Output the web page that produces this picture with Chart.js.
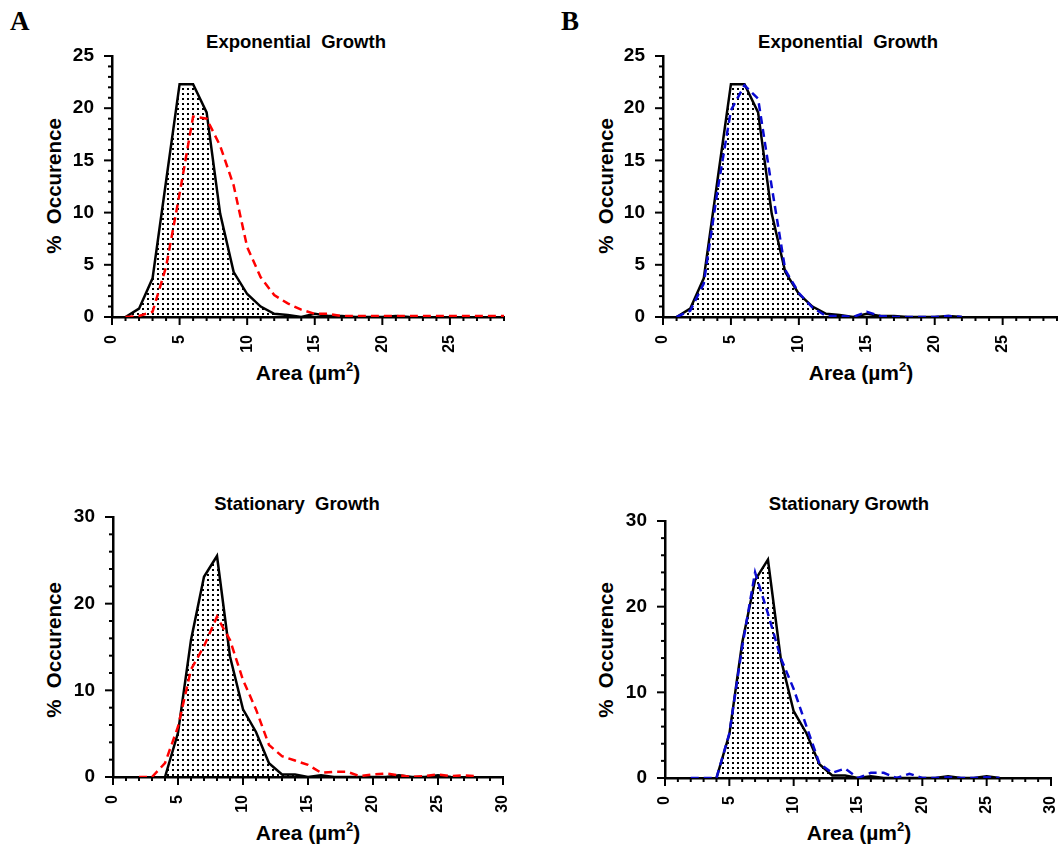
<!DOCTYPE html>
<html>
<head>
<meta charset="utf-8">
<script src="https://cdn.jsdelivr.net/npm/chart.js@4/dist/chart.umd.min.js"></script>
<style>
  html, body { margin: 0; padding: 0; background: #fff; }
  #page { position: relative; width: 1059px; height: 848px; overflow: hidden; font-family: 'Liberation Sans', Arial, sans-serif; }
  .box { position: absolute; }
  .txt { position: absolute; white-space: pre; font-weight: bold; color: #000; line-height: 1; }
  .panel-letter { font-family: 'Liberation Serif', 'Times New Roman', serif; font-size: 27px; }
  .title { font-size: 18.5px; transform: translateX(-50%); }
  .xtitle { font-size: 21px; transform: translate(-50%, -50%); }
  .ytitle { font-size: 20.5px; transform: translate(-50%, -50%) rotate(-90deg); }
  sup { font-size: 13px; position: relative; top: -2px; vertical-align: top; }
</style>
</head>
<body>
<div id="page">
  <div class="txt panel-letter" style="left:10px; top:8px;">A</div>
  <div class="txt panel-letter" style="left:561px; top:8px;">B</div>

  <div class="txt title" style="left:296px; top:33px;">Exponential  Growth</div>
  <div class="txt title" style="left:848px; top:33px;">Exponential  Growth</div>
  <div class="txt title" style="left:297px; top:495px;">Stationary  Growth</div>
  <div class="txt title" style="left:849px; top:495px;">Stationary Growth</div>

  <div class="txt ytitle" style="left:54px; top:186px;">%  Occurence</div>
  <div class="txt ytitle" style="left:606px; top:186px;">%  Occurence</div>
  <div class="txt ytitle" style="left:54px; top:650px;">%  Occurence</div>
  <div class="txt ytitle" style="left:606px; top:650px;">%  Occurence</div>

  <div class="txt xtitle" style="left:308px; top:372px;">Area (µm<sup>2</sup>)</div>
  <div class="txt xtitle" style="left:861px; top:372px;">Area (µm<sup>2</sup>)</div>
  <div class="txt xtitle" style="left:308px; top:832px;">Area (µm<sup>2</sup>)</div>
  <div class="txt xtitle" style="left:859px; top:832px;">Area (µm<sup>2</sup>)</div>

  <div class="box" style="left:50px; top:36px; width:470px; height:330px;"><canvas id="chartA1"></canvas></div>
  <div class="box" style="left:600px; top:36px; width:459px; height:330px;"><canvas id="chartB1"></canvas></div>
  <div class="box" style="left:50px; top:497px; width:470px; height:330px;"><canvas id="chartA2"></canvas></div>
  <div class="box" style="left:600px; top:500px; width:459px; height:330px;"><canvas id="chartB2"></canvas></div>
</div>

<script>
// Exponential growth, control (black, dotted fill)
const expCtrlX = [1, 2, 3, 4, 5, 6, 7, 8, 9, 10, 11, 12, 13, 14, 15, 16, 17, 18, 19, 20, 21, 22];
const expCtrlY = [0, 0.8, 3.7, 13.0, 22.3, 22.3, 19.6, 9.9, 4.3, 2.2, 1.0, 0.3, 0.2, 0, 0.3, 0.1, 0.1, 0, 0, 0, 0.1, 0];

// Exponential growth, red dashed (panel A)
const expRedX = [1, 2, 3, 4, 5, 6, 7, 8, 9, 10, 11, 12, 13, 14, 15, 16, 17, 18, 19, 20, 21, 22, 23, 24, 25, 26, 27, 28, 29];
const expRedY = [0, 0.1, 0.5, 4.8, 11.8, 19.2, 19.0, 16.4, 12.6, 6.7, 3.8, 2.1, 1.3, 0.7, 0.3, 0.3, 0.1, 0.1, 0.1, 0.1, 0.1, 0.1, 0.1, 0.1, 0.1, 0.1, 0.1, 0.1, 0.1];

// Exponential growth, blue dashed (panel B)
const expBlueX = [1, 2, 3, 4, 5, 6, 7, 8, 9, 10, 11, 12, 13, 14, 15, 16, 17, 18, 19, 20, 21, 22];
const expBlueY = [0, 0.6, 3.2, 12.0, 19.8, 22.2, 20.9, 12.5, 4.5, 2.3, 0.9, 0.1, 0.1, 0, 0.5, 0.1, 0, 0, 0, 0, 0.1, 0];

// Stationary growth, control (black, dotted fill)
const statCtrlX = [4, 5, 6, 7, 8, 9, 10, 11, 12, 13, 14, 15, 16, 17, 18, 19, 20, 21, 22, 23, 24, 25, 26];
const statCtrlY = [0, 5.1, 15.8, 23.1, 25.5, 13.9, 7.8, 5.2, 1.6, 0.3, 0.3, 0, 0.2, 0, 0, 0, 0, 0, 0.2, 0, 0, 0.2, 0];

// Stationary growth, red dashed (panel A)
const statRedX = [2, 3, 4, 5, 6, 7, 8, 9, 10, 11, 12, 13, 14, 15, 16, 17, 18, 19, 20, 21, 22, 23, 24, 25, 26, 27, 28];
const statRedY = [0, 0, 1.6, 5.8, 12.4, 15.1, 18.5, 15.8, 11.2, 7.8, 3.7, 2.4, 1.9, 1.4, 0.5, 0.6, 0.6, 0.1, 0.3, 0.4, 0.2, 0, 0.1, 0.3, 0.1, 0.2, 0.1];

// Stationary growth, blue dashed (panel B)
const statBlueX = [2, 3, 4, 5, 6, 7, 8, 9, 10, 11, 12, 13, 14, 15, 16, 17, 18, 19, 20, 21, 22, 23, 24, 25, 26];
const statBlueY = [0, 0, 0, 5.2, 15.3, 24.0, 19.2, 14.0, 10.4, 6.0, 1.7, 0.6, 1.1, 0, 0.6, 0.6, 0, 0.5, 0, 0, 0.1, 0, 0, 0.1, 0];

const RED = '#ff0000';
const BLUE = '#0a0ad2';

function toPoints(xs, ys) {
    return xs.map((x, i) => ({ x: x, y: ys[i] }));
}

// Small dot pattern used for the control area fill
function dotPattern() {
    const c = document.createElement('canvas');
    c.width = 5;
    c.height = 5;
    const g = c.getContext('2d');
    g.fillStyle = '#000';
    g.fillRect(2, 2, 2, 2);
    return g.createPattern(c, 'repeat');
}

// Draw major / minor tick marks outside the axes
const tickMarks = {
    id: 'tickMarks',
    afterDraw(chart, args, opts) {
        const ctx = chart.ctx;
        const xs = chart.scales.x;
        const ys = chart.scales.y;
        ctx.save();
        ctx.strokeStyle = '#000';
        ctx.lineWidth = 2;
        xs.ticks.forEach(t => {
            const px = xs.getPixelForValue(t.value);
            const len = t.value % opts.xMajor === 0 ? 8 : 4;
            ctx.beginPath();
            ctx.moveTo(px, xs.top);
            ctx.lineTo(px, xs.top + len);
            ctx.stroke();
        });
        ys.ticks.forEach(t => {
            const py = ys.getPixelForValue(t.value);
            const len = t.value % opts.yMajor === 0 ? 8 : 4;
            ctx.beginPath();
            ctx.moveTo(ys.right, py);
            ctx.lineTo(ys.right - len, py);
            ctx.stroke();
        });
        ctx.restore();
    }
};

function makePanel(id, box, area, cfg) {
    const ctx = document.getElementById(id).getContext('2d');
    const pattern = dotPattern();
    return new Chart(ctx, {
        type: 'line',
        data: {
            datasets: [
                {
                    data: toPoints(cfg.dashX, cfg.dashY),
                    borderColor: cfg.dashColor,
                    borderWidth: 2.5,
                    borderDash: [8, 5],
                    pointRadius: 0,
                    tension: 0,
                    fill: false
                },
                {
                    data: toPoints(cfg.ctrlX, cfg.ctrlY),
                    borderColor: '#000',
                    borderWidth: 2.5,
                    backgroundColor: pattern,
                    pointRadius: 0,
                    tension: 0,
                    fill: 'origin'
                }
            ]
        },
        options: {
            responsive: false,
            animation: false,
            layout: {
                padding: {
                    left: 0,
                    bottom: 0,
                    top: area.top - box.top,
                    right: box.left + box.width - area.right
                }
            },
            plugins: {
                legend: { display: false },
                tooltip: { enabled: false },
                tickMarks: { xMajor: cfg.xMajor, yMajor: cfg.yMajor }
            },
            scales: {
                x: {
                    type: 'linear',
                    min: 0,
                    max: cfg.xMax,
                    grid: { display: false },
                    border: { display: true, color: '#000', width: 2.5 },
                    ticks: {
                        stepSize: 1,
                        autoSkip: false,
                        minRotation: 90,
                        maxRotation: 90,
                        padding: 10,
                        color: '#000',
                        font: { family: "'Liberation Sans', Arial, sans-serif", size: 16, weight: 'bold' },
                        callback: function(value) {
                            return value % cfg.xMajor === 0 ? String(value) : '';
                        }
                    },
                    afterFit: function(scale) {
                        scale.height = box.top + box.height - area.bottom;
                        scale.paddingLeft = 0;
                        scale.paddingRight = 0;
                    }
                },
                y: {
                    min: 0,
                    max: cfg.yMax,
                    grid: { display: false },
                    border: { display: true, color: '#000', width: 2.5 },
                    ticks: {
                        stepSize: cfg.yStep,
                        autoSkip: false,
                        padding: 10,
                        color: '#000',
                        font: { family: "'Liberation Sans', Arial, sans-serif", size: 19, weight: 'bold' },
                        callback: function(value) {
                            return value % cfg.yMajor === 0 ? String(value) : '';
                        }
                    },
                    afterFit: function(scale) {
                        scale.width = area.left - box.left;
                        scale.paddingTop = 0;
                        scale.paddingBottom = 0;
                    }
                }
            }
        },
        plugins: [tickMarks]
    });
}

function setupCanvas(id, box) {
    const c = document.getElementById(id);
    c.width = box.width;
    c.height = box.height;
    c.style.width = box.width + 'px';
    c.style.height = box.height + 'px';
}

const boxA1 = { left: 50, top: 36, width: 470, height: 330 };
const boxB1 = { left: 600, top: 36, width: 459, height: 330 };
const boxA2 = { left: 50, top: 497, width: 470, height: 330 };
const boxB2 = { left: 600, top: 500, width: 459, height: 330 };

setupCanvas('chartA1', boxA1);
setupCanvas('chartB1', boxB1);
setupCanvas('chartA2', boxA2);
setupCanvas('chartB2', boxB2);

makePanel('chartA1', boxA1, { left: 112, right: 504, top: 56, bottom: 317 }, {
    ctrlX: expCtrlX, ctrlY: expCtrlY, dashX: expRedX, dashY: expRedY, dashColor: RED,
    xMax: 29, yMax: 25, yStep: 1, xMajor: 5, yMajor: 5
});
makePanel('chartB1', boxB1, { left: 663, right: 1057, top: 56, bottom: 317 }, {
    ctrlX: expCtrlX, ctrlY: expCtrlY, dashX: expBlueX, dashY: expBlueY, dashColor: BLUE,
    xMax: 29, yMax: 25, yStep: 1, xMajor: 5, yMajor: 5
});
makePanel('chartA2', boxA2, { left: 113, right: 503, top: 517, bottom: 777 }, {
    ctrlX: statCtrlX, ctrlY: statCtrlY, dashX: statRedX, dashY: statRedY, dashColor: RED,
    xMax: 30, yMax: 30, yStep: 2, xMajor: 5, yMajor: 10
});
makePanel('chartB2', boxB2, { left: 665, right: 1051, top: 521, bottom: 778 }, {
    ctrlX: statCtrlX, ctrlY: statCtrlY, dashX: statBlueX, dashY: statBlueY, dashColor: BLUE,
    xMax: 30, yMax: 30, yStep: 2, xMajor: 5, yMajor: 10
});
</script>
</body>
</html>
